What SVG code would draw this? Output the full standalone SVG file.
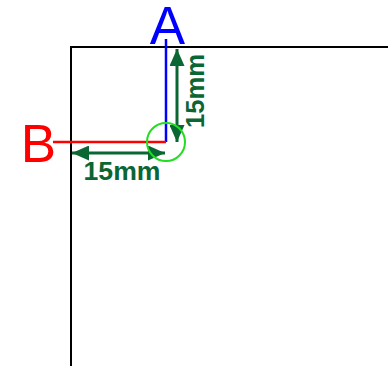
<svg xmlns="http://www.w3.org/2000/svg" width="388" height="366" viewBox="0 0 388 366">
<style>
.dim{stroke:#0a6633;stroke-width:3;fill:none}
.lbl{font-family:"Liberation Sans",Arial,sans-serif;font-weight:bold;font-size:25px;fill:#0a6633}
.big{font-family:"Liberation Sans",Arial,sans-serif;font-size:53px}
</style>
<defs>
<marker id="ah" viewBox="0 0 17 15" refX="17" refY="7.5" markerWidth="5.67" markerHeight="5" orient="auto-start-reverse" markerUnits="strokeWidth">
<path d="M0,0L17,7.5L0,15z" fill="#0a6633"/>
</marker>
</defs>
<rect width="388" height="366" fill="#fff"/>
<g id="frame">
<path d="M71,366V47H388" stroke="#000" stroke-width="2" fill="none"/>
</g>
<g id="connectors">
<line x1="166" y1="39" x2="166" y2="142" stroke="#0000ff" stroke-width="2.5"/>
<line x1="53" y1="142" x2="166" y2="142" stroke="#ff0000" stroke-width="2.5"/>
<line class="dim" x1="177" y1="49" x2="177" y2="142" marker-start="url(#ah)" marker-end="url(#ah)"/>
<line class="dim" x1="72" y1="153" x2="165" y2="153" marker-start="url(#ah)" marker-end="url(#ah)"/>
</g>
<g id="circle">
<circle cx="166" cy="142" r="19" fill="none" stroke="#22dd22" stroke-width="2"/>
</g>
<g id="labelA"><text class="big" x="167.5" y="44" text-anchor="middle" fill="#0000ff">A</text></g>
<g id="labelB"><text class="big" x="56" y="162" text-anchor="end" fill="#ff0000">B</text></g>
<g id="dimH"><text class="lbl" x="122" y="180" text-anchor="middle" textLength="77" lengthAdjust="spacingAndGlyphs">15mm</text></g>
<g id="dimV"><text class="lbl" transform="translate(204,91) rotate(-90)" text-anchor="middle" textLength="74" lengthAdjust="spacingAndGlyphs">15mm</text></g>
</svg>
